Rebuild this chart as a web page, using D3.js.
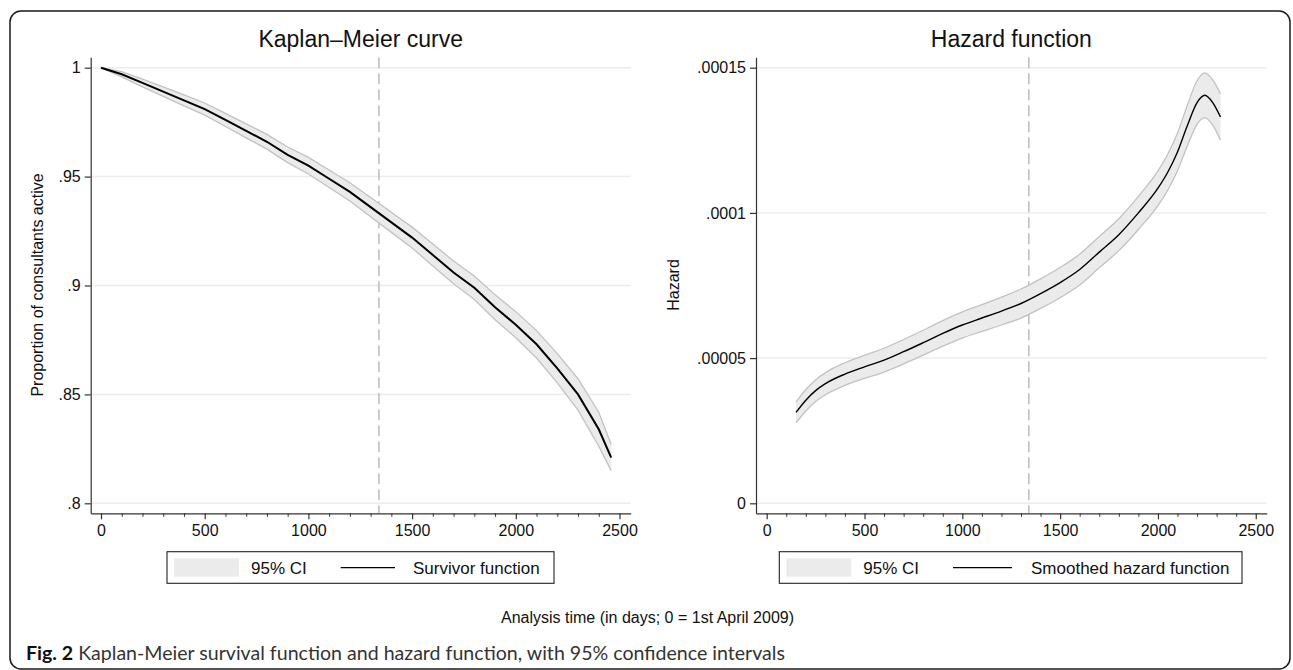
<!DOCTYPE html>
<html>
<head>
<meta charset="utf-8">
<script src="https://cdn.jsdelivr.net/npm/d3@7"></script>
<style>
  body { margin: 0; background: #fff; }
  svg { display: block; }
  text { font-family: "Liberation Sans", Arial, Helvetica, sans-serif; fill: #111; }
</style>
</head>
<body>
<svg id="chart" width="1293" height="670"></svg>
<script>
// Kaplan-Meier survivor function (days, proportion active)
const kmTime  = [0, 100, 200, 300, 400, 500, 600, 700, 800, 900, 1000, 1100, 1200, 1300, 1400, 1500, 1600, 1700, 1800, 1900, 2000, 2100, 2200, 2300, 2400, 2460];
const kmSurv  = [1.000, 0.997, 0.993, 0.989, 0.985, 0.981, 0.976, 0.971, 0.966, 0.960, 0.955, 0.949, 0.943, 0.936, 0.929, 0.922, 0.914, 0.906, 0.899, 0.890, 0.882, 0.873, 0.862, 0.850, 0.834, 0.821];
const kmLower = [1.000, 0.9958, 0.9912, 0.9868, 0.9825, 0.9782, 0.9730, 0.9678, 0.9626, 0.9564, 0.9512, 0.9450, 0.9388, 0.9316, 0.9244, 0.9172, 0.9090, 0.9008, 0.8936, 0.8843, 0.8760, 0.8667, 0.8553, 0.8428, 0.8262, 0.8150];
const kmUpper = [1.000, 0.9982, 0.9948, 0.9912, 0.9875, 0.9838, 0.9790, 0.9742, 0.9694, 0.9636, 0.9588, 0.9530, 0.9472, 0.9404, 0.9336, 0.9268, 0.9190, 0.9112, 0.9044, 0.8957, 0.8880, 0.8793, 0.8687, 0.8572, 0.8418, 0.8270];

// Smoothed hazard function
const hzTime  = [150, 200, 250, 300, 400, 500, 600, 700, 800, 900, 1000, 1100, 1200, 1300, 1400, 1500, 1600, 1700, 1800, 1900, 2000, 2050, 2100, 2150, 2200, 2240, 2280, 2320];
const hzRate  = [3.13e-5, 3.55e-5, 3.88e-5, 4.12e-5, 4.45e-5, 4.70e-5, 4.93e-5, 5.22e-5, 5.53e-5, 5.85e-5, 6.14e-5, 6.38e-5, 6.62e-5, 6.88e-5, 7.22e-5, 7.60e-5, 8.05e-5, 8.65e-5, 9.25e-5, 10.00e-5, 10.85e-5, 11.40e-5, 12.10e-5, 13.00e-5, 13.80e-5, 14.05e-5, 13.80e-5, 13.30e-5];
const hzLower = [2.77e-5, 3.18e-5, 3.51e-5, 3.74e-5, 4.06e-5, 4.30e-5, 4.52e-5, 4.80e-5, 5.10e-5, 5.41e-5, 5.69e-5, 5.92e-5, 6.14e-5, 6.38e-5, 6.71e-5, 7.08e-5, 7.52e-5, 8.11e-5, 8.70e-5, 9.43e-5, 10.25e-5, 10.78e-5, 11.45e-5, 12.30e-5, 13.05e-5, 13.28e-5, 13.02e-5, 12.50e-5];
const hzUpper = [3.49e-5, 3.92e-5, 4.25e-5, 4.50e-5, 4.84e-5, 5.10e-5, 5.34e-5, 5.64e-5, 5.96e-5, 6.29e-5, 6.59e-5, 6.84e-5, 7.10e-5, 7.38e-5, 7.73e-5, 8.12e-5, 8.58e-5, 9.19e-5, 9.80e-5, 10.57e-5, 11.45e-5, 12.02e-5, 12.75e-5, 13.70e-5, 14.55e-5, 14.82e-5, 14.58e-5, 14.10e-5];

// ticks and labels
const xTicks = [0, 500, 1000, 1500, 2000, 2500];
const kmYTicks = [0.8, 0.85, 0.9, 0.95, 1];
const kmYLabels = ['.8', '.85', '.9', '.95', '1'];
const hzYTicks = [0, 0.00005, 0.0001, 0.00015];
const hzYLabels = ['0', '.00005', '.0001', '.00015'];
const refDay = 1340; // dashed reference line

const svg = d3.select('#chart');

// outer frame
svg.append('rect')
  .attr('x', 10).attr('y', 11).attr('width', 1280).attr('height', 658)
  .attr('rx', 11).attr('fill', 'none').attr('stroke', '#1a1a1a').attr('stroke-width', 1.5);

function panel(opt) {
  const x = d3.scaleLinear().domain(opt.xDomain).range([opt.left, opt.right]);
  const y = d3.scaleLinear().domain(opt.yDomain).range([513.3, 57.3]);
  const g = svg.append('g');

  // grid lines
  g.selectAll('.grid').data(opt.yTicks).enter().append('line')
    .attr('x1', opt.left).attr('x2', opt.right)
    .attr('y1', d => y(d)).attr('y2', d => y(d))
    .attr('stroke', '#ececec').attr('stroke-width', 1.5);

  // reference line
  g.append('line')
    .attr('x1', x(refDay)).attr('x2', x(refDay))
    .attr('y1', y.range()[1]).attr('y2', y.range()[0])
    .attr('stroke', '#bdbdbd').attr('stroke-width', 1.5).attr('stroke-dasharray', '11,5');

  const pts = opt.t.map((t, i) => ({ t: t, v: opt.v[i], lo: opt.lo[i], hi: opt.hi[i] }));

  // confidence band
  g.append('path').datum(pts)
    .attr('d', d3.area().curve(opt.curve).x(d => x(d.t)).y0(d => y(d.lo)).y1(d => y(d.hi)))
    .attr('fill', '#ebebeb');
  ['lo', 'hi'].forEach(k => {
    g.append('path').datum(pts)
      .attr('d', d3.line().curve(opt.curve).x(d => x(d.t)).y(d => y(d[k])))
      .attr('fill', 'none').attr('stroke', '#c2c2c2').attr('stroke-width', 1.3);
  });

  // estimate
  g.append('path').datum(pts)
    .attr('d', d3.line().curve(opt.curve).x(d => x(d.t)).y(d => y(d.v)))
    .attr('fill', 'none').attr('stroke', '#000').attr('stroke-width', opt.lineWidth);

  // axes
  const yAxis = g.append('g').attr('transform', `translate(${opt.left},0)`)
    .call(d3.axisLeft(y).tickValues(opt.yTicks).tickFormat((d, i) => opt.yLabels[i]).tickSize(6).tickPadding(4).tickSizeOuter(0));
  const xAxis = g.append('g').attr('transform', 'translate(0,513.3)')
    .call(d3.axisBottom(x).tickValues(xTicks).tickFormat(d3.format('d')).tickSize(6).tickPadding(5).tickSizeOuter(0));
  g.append('g').attr('transform', 'translate(0,513.3)')
    .call(d3.axisBottom(x).tickValues(d3.range(100, 2500, 100).filter(d => d % 500 !== 0)).tickFormat('').tickSize(3.5).tickSizeOuter(0))
    .select('.domain').remove();
  [yAxis, xAxis].forEach(a => {
    a.selectAll('text').style('font-size', '16px').attr('fill', '#111');
    a.selectAll('line, path').attr('stroke', '#333').attr('stroke-width', 1.2);
  });
  svg.selectAll('.tick line').attr('stroke', '#333');

  // title
  svg.append('text').attr('x', (opt.left + opt.right) / 2).attr('y', 46.7)
    .attr('text-anchor', 'middle').style('font-size', '23px').text(opt.title);
  // y title
  svg.append('text').attr('transform', `translate(${opt.yTitleX},285) rotate(-90)`)
    .attr('text-anchor', 'middle').style('font-size', '16px').text(opt.yTitle);

  // legend
  const L = opt.legend;
  svg.append('rect').attr('x', L.x0).attr('y', 551.7).attr('width', L.x1 - L.x0).attr('height', 31.6)
    .attr('fill', '#fff').attr('stroke', '#222').attr('stroke-width', 1.1);
  svg.append('rect').attr('x', L.x0 + 7).attr('y', 558.3).attr('width', 65).attr('height', 18.4).attr('fill', '#ebebeb');
  svg.append('text').attr('x', L.x0 + 84).attr('y', 573.8).style('font-size', '17px').text('95% CI');
  svg.append('line').attr('x1', L.lineX0).attr('x2', L.lineX1).attr('y1', 567.7).attr('y2', 567.7)
    .attr('stroke', '#000').attr('stroke-width', 1.3);
  svg.append('text').attr('x', L.textX).attr('y', 573.8).style('font-size', '17px').text(opt.lineLabel);
}

panel({
  left: 90.7, right: 630.7, xDomain: [-49.7, 2554], yDomain: [0.795409, 1.004775],
  t: kmTime, v: kmSurv, lo: kmLower, hi: kmUpper, curve: d3.curveLinear, lineWidth: 2,
  yTicks: kmYTicks, yLabels: kmYLabels,
  title: 'Kaplan\u2013Meier curve', yTitle: 'Proportion of consultants active', yTitleX: 43,
  lineLabel: 'Survivor function',
  legend: { x0: 167, x1: 554, lineX0: 340.7, lineX1: 395, textX: 413 }
});

panel({
  left: 756, right: 1266.7, xDomain: [-54.7, 2556], yDomain: [-3.44e-6, 0.00015358],
  t: hzTime, v: hzRate, lo: hzLower, hi: hzUpper, curve: d3.curveMonotoneX, lineWidth: 1.4,
  yTicks: hzYTicks, yLabels: hzYLabels,
  title: 'Hazard function', yTitle: 'Hazard', yTitleX: 679,
  lineLabel: 'Smoothed hazard function',
  legend: { x0: 779.3, x1: 1242, lineX0: 953, lineX1: 1012, textX: 1031 }
});

// shared x title
svg.append('text').attr('x', 647.5).attr('y', 623.3).attr('text-anchor', 'middle')
  .style('font-size', '16px').text('Analysis time (in days; 0 = 1st April 2009)');

// figure caption
const cap = svg.append('text').attr('x', 26).attr('y', 659.5)
  .style('font-family', 'Lato, "Open Sans", sans-serif').style('font-size', '20px');
cap.append('tspan').style('font-weight', 'bold').attr('fill', '#111').text('Fig. 2');
cap.append('tspan').attr('fill', '#333').text(' Kaplan-Meier survival function and hazard function, with 95% confidence intervals');
const capLen = cap.node().getComputedTextLength();
cap.style('font-size', (20 * 759 / capLen).toFixed(2) + 'px');
</script>
</body>
</html>
